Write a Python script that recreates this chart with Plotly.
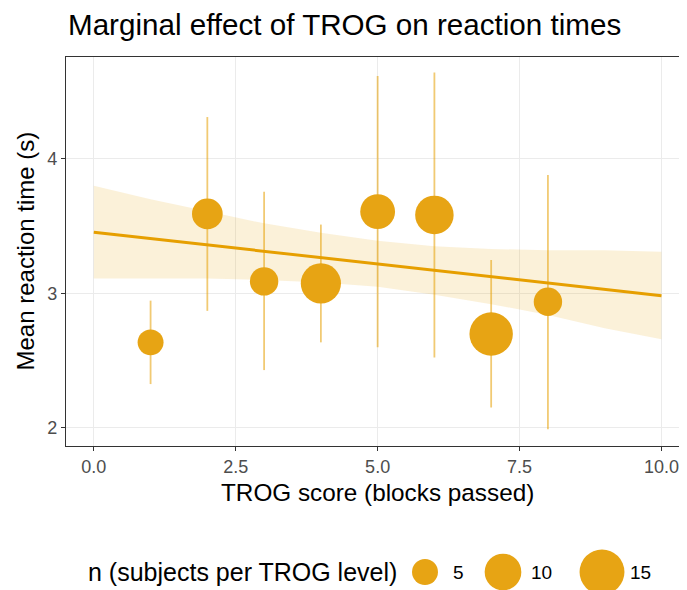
import numpy as np
import plotly.graph_objects as go

# points: TROG level, mean RT, interval, subjects per level
trog = [1, 2, 3, 4, 5, 6, 7, 8]
mean_rt = [2.636, 3.59, 3.089, 3.074, 3.607, 3.583, 2.698, 2.938]
rt_low = [2.326, 2.87, 2.43, 2.636, 2.60, 2.524, 2.152, 1.99]
rt_high = [2.946, 4.31, 3.755, 3.511, 4.614, 4.64, 3.248, 3.879]
n_subj = [5, 7, 6, 12, 9, 11, 14, 6]

# fitted marginal effect with confidence band
fit_x = [0, 1, 2, 3, 4, 5, 6, 7, 8, 9, 10]
fit_y = [3.454, 3.407, 3.360, 3.313, 3.266, 3.219, 3.171, 3.124, 3.077, 3.030, 2.983]
fit_low = [3.11, 3.11, 3.11, 3.10, 3.08, 3.05, 2.99, 2.92, 2.84, 2.74, 2.66]
fit_high = [3.80, 3.70, 3.61, 3.52, 3.45, 3.39, 3.35, 3.33, 3.32, 3.32, 3.31]

legend_n = [5, 10, 15]
legend_x = [425, 503, 602]   # page pixel positions of the size key

ORANGE = "#E69F00"
POINT = "#E7A414"
FONT = "Liberation Sans, Arial, sans-serif"

# the page body keeps its default 8px margin
PAD = 8
W, H = 687, 590 - PAD
PLOT_W = W - (66 - PAD)


def diam(n):
    return 11.6 * np.sqrt(n)


fig = go.Figure()

# confidence band
fig.add_trace(go.Scatter(x=fit_x, y=fit_low, mode="lines", line=dict(width=0),
                         showlegend=False, hoverinfo="skip"))
fig.add_trace(go.Scatter(x=fit_x, y=fit_high, mode="lines", line=dict(width=0),
                         fill="tonexty", fillcolor="rgba(230,159,0,0.15)",
                         showlegend=False, hoverinfo="skip"))
fig.add_trace(go.Scatter(x=fit_x, y=fit_y, mode="lines",
                         line=dict(color=ORANGE, width=3), showlegend=False))

# intervals
fig.add_trace(go.Scatter(
    x=trog, y=mean_rt, mode="markers",
    marker=dict(size=0.1, color="rgba(0,0,0,0)"),
    error_y=dict(type="data", symmetric=False,
                 array=[h - m for h, m in zip(rt_high, mean_rt)],
                 arrayminus=[m - l for m, l in zip(mean_rt, rt_low)],
                 color="rgba(230,159,0,0.55)", thickness=1.8, width=0),
    showlegend=False))

# points
fig.add_trace(go.Scatter(
    x=trog, y=mean_rt, mode="markers",
    marker=dict(size=[diam(n) for n in n_subj], color=POINT, opacity=1,
                line=dict(width=0)),
    showlegend=False))

# size key drawn on a helper axis in page pixel units
fig.add_trace(go.Scatter(
    x=legend_x, y=[18] * len(legend_x), mode="markers",
    marker=dict(size=[diam(n) for n in legend_n], color=POINT, opacity=1,
                line=dict(width=0)),
    xaxis="x2", yaxis="y2", showlegend=False, hoverinfo="skip"))

annotations = [
    dict(text="Marginal effect of TROG on reaction times", xref="paper", yref="paper",
         x=0, y=1, yshift=14, xanchor="left", yanchor="bottom", showarrow=False,
         font=dict(size=29.6, color="black", family=FONT)),
    dict(text="Mean reaction time (s)", xref="paper", yref="y domain", x=0, y=0.5,
         xshift=-41, textangle=-90, xanchor="center", yanchor="middle", showarrow=False,
         font=dict(size=24, color="black", family=FONT)),
    dict(text="TROG score (blocks passed)", xref="x", yref="y domain", x=5, y=0,
         yshift=-47, xanchor="center", yanchor="middle", showarrow=False,
         font=dict(size=24.3, color="black", family=FONT)),
    dict(text="n (subjects per TROG level)", xref="x2", yref="y2", x=399, y=18,
         xanchor="right", yanchor="middle", showarrow=False,
         font=dict(size=25, color="black", family=FONT)),
]
for lx, n in zip(legend_x, legend_n):
    annotations.append(dict(text=str(n), xref="x2", yref="y2", x=lx + 26, y=18,
                            xanchor="left", yanchor="middle", showarrow=False,
                            font=dict(size=19, color="black", family=FONT)))

fig.update_layout(
    width=W, height=H,
    margin=dict(l=66 - PAD, r=0, t=57 - PAD, b=0),
    paper_bgcolor="white", plot_bgcolor="white",
    font=dict(family=FONT, color="black"),
    annotations=annotations,
    xaxis=dict(domain=[0, (687 - 66) / PLOT_W], range=[-0.49, 10.45], automargin=False,
               tickvals=[0, 2.5, 5, 7.5, 10], ticktext=["0.0", "2.5", "5.0", "7.5", "10.0"],
               ticks="outside", ticklen=4, tickcolor="#333333",
               tickfont=dict(size=18, color="#4D4D4D"),
               showgrid=True, gridcolor="#EBEBEB", gridwidth=1.2,
               showline=True, linecolor="#333333", linewidth=1.2, mirror=True,
               zeroline=False),
    yaxis=dict(domain=[(590 - 446) / (H - 57 + PAD), 1], range=[1.866, 4.756],
               automargin=False,
               tickvals=[2, 3, 4], ticks="outside", ticklen=4, tickcolor="#333333",
               tickfont=dict(size=18, color="#4D4D4D"),
               showgrid=True, gridcolor="#EBEBEB", gridwidth=1.2,
               showline=True, linecolor="#333333", linewidth=1.2,
               zeroline=False),
    xaxis2=dict(domain=[0, 1], range=[66, 66 + PLOT_W], visible=False, anchor="y2"),
    yaxis2=dict(domain=[0, 0.1], range=[0, 0.1 * (H - 57 + PAD)], visible=False,
                anchor="x2"),
)

fig.write_html("out.html")
